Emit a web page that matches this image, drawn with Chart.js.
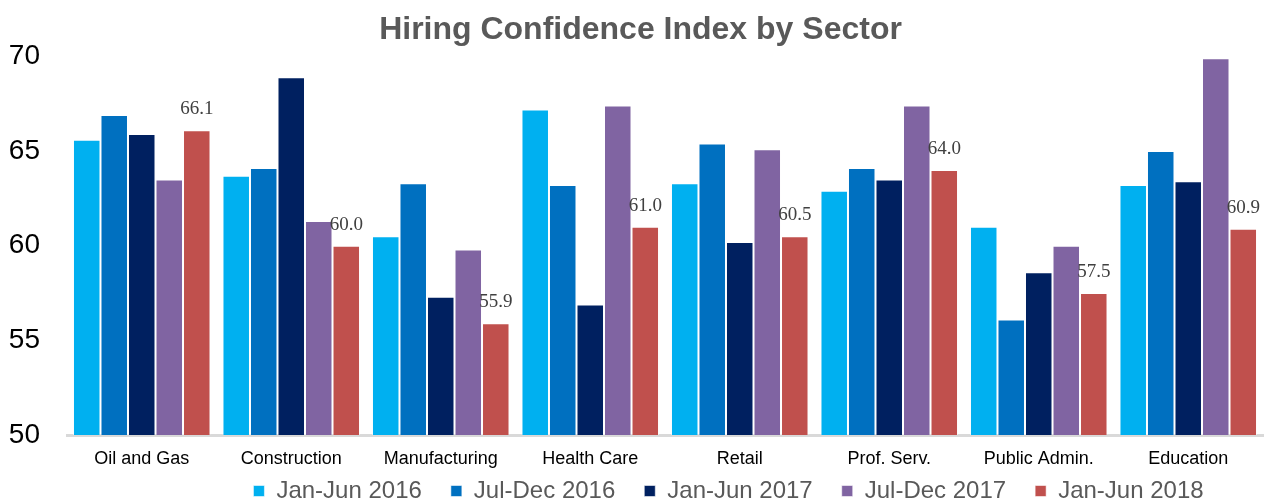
<!DOCTYPE html>
<html>
<head>
<meta charset="utf-8">
<script src="https://cdn.jsdelivr.net/npm/chart.js@4"></script>
<style>
  html, body { margin: 0; padding: 0; background: #ffffff; }
  #wrap { width: 1265px; height: 502px; }
</style>
</head>
<body>
<div id="wrap"><canvas id="barras" width="1265" height="502"></canvas></div>
<script>
// Datos del gráfico
const sectores = ["Oil and Gas", "Construction", "Manufacturing", "Health Care", "Retail", "Prof. Serv.", "Public Admin.", "Education"];
const periodos = ["Jan-Jun 2016", "Jul-Dec 2016", "Jan-Jun 2017", "Jul-Dec 2017", "Jan-Jun 2018"];
const janJun2016 = [65.6, 63.7, 60.5, 67.2, 63.3, 62.9, 61.0, 63.2];
const julDec2016 = [66.9, 64.1, 63.3, 63.2, 65.4, 64.1, 56.1, 65.0];
const janJun2017 = [65.9, 68.9, 57.3, 56.9, 60.2, 63.5, 58.6, 63.4];
const julDec2017 = [63.5, 61.3, 59.8, 67.4, 65.1, 67.4, 60.0, 69.9];
const janJun2018 = [66.1, 60.0, 55.9, 61.0, 60.5, 64.0, 57.5, 60.9];
const ticksY = [50, 55, 60, 65, 70];

const colores = ["#00B0F0", "#0070C0", "#002060", "#8064A2", "#C0504D"];
const series = [janJun2016, julDec2016, janJun2017, julDec2017, janJun2018];

// Etiquetas encima de las barras de la última serie
const etiquetasPlugin = {
  id: "etiquetas",
  afterDatasetsDraw(chart) {
    const ctx = chart.ctx;
    const idx = series.length - 1;
    const meta = chart.getDatasetMeta(idx);
    ctx.save();
    ctx.font = "19px 'Liberation Serif'";
    ctx.fillStyle = "#404040";
    ctx.textAlign = "center";
    ctx.textBaseline = "alphabetic";
    meta.data.forEach(function (bar, i) {
      ctx.fillText(janJun2018[i].toFixed(1), bar.x, bar.y - 16);
    });
    ctx.restore();
  }
};

// Ajuste de la leyenda (se agranda hacia arriba y se desplaza a la derecha) y del título
const ajustePlugin = {
  id: "ajuste",
  afterLayout(chart) {
    const lg = chart.legend;
    lg.top = lg.bottom - 52;
    lg.height = 52;
    lg.left += 97;
    lg.right += 97;
    const tb = chart.titleBlock;
    tb.left += 9;
    tb.right += 9;
  }
};

const datos = {
  labels: sectores,
  datasets: series.map(function (s, i) {
    return {
      label: periodos[i],
      data: s,
      backgroundColor: colores[i],
      borderColor: "rgba(255,255,255,0.55)",
      borderWidth: 1,
      categoryPercentage: 0.92,
      barPercentage: 1.0
    };
  })
};

const config = {
  type: "bar",
  data: datos,
  plugins: [etiquetasPlugin, ajustePlugin],
  options: {
    responsive: false,
    animation: false,
    layout: { padding: { left: 0, right: 2, top: 0, bottom: 0 } },
    plugins: {
      title: {
        display: true,
        text: "Hiring Confidence Index by Sector",
        color: "#595959",
        font: { family: "'Liberation Sans'", size: 32, weight: "bold" },
        padding: { top: 11, bottom: 7 }
      },
      legend: {
        position: "bottom",
        maxHeight: 32,
        labels: {
          color: "#595959",
          font: { family: "'Liberation Sans'", size: 24 },
          boxWidth: 11,
          boxHeight: 11,
          padding: 29
        }
      },
      tooltip: { enabled: false }
    },
    scales: {
      x: {
        afterFit: function (axis) { axis.height = 35; },
        grid: { display: false, drawTicks: false },
        border: { color: "#D9D9D9", width: 3 },
        ticks: {
          color: "#000000",
          font: { family: "'Liberation Sans'", size: 18 },
          padding: 13
        }
      },
      y: {
        min: ticksY[0],
        max: ticksY[ticksY.length - 1],
        afterBuildTicks: function (axis) {
          axis.ticks = ticksY.map(function (v) { return { value: v }; });
        },
        afterFit: function (axis) { axis.width = 67; },
        grid: { display: false, drawTicks: false },
        border: { display: false },
        ticks: {
          color: "#000000",
          font: { family: "'Liberation Sans'", size: 28 },
          padding: 27
        }
      }
    }
  }
};

new Chart(document.getElementById("barras").getContext("2d"), config);
</script>
</body>
</html>
